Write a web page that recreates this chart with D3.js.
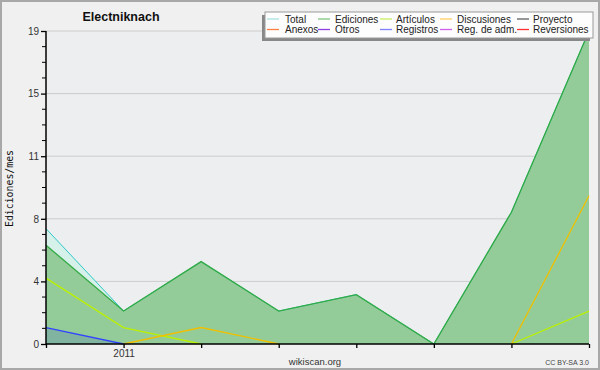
<!DOCTYPE html>
<html><head><meta charset="utf-8">
<script src="https://cdn.jsdelivr.net/npm/d3@7"></script>
<style>body{margin:0;background:#f0f0f0}svg{display:block}</style>
</head><body><svg id="c" width="600" height="370"></svg>
<script>
const months = ["2010-12","2011-01","2011-02","2011-03","2011-04","2011-05","2011-06","2011-07"];
const xLabels = {"2011-01":"2011"};
const total = [7,2,5,2,3,0,8,19];
const ediciones = [6,2,5,2,3,0,8,19];
const articulos = [4,1,0,null,null,null,0,2];
const discusiones = [null,0,1,0,null,null,0,9];
const registros = [1,0,null,null,null,null,null,null];
const yTicks = [0,3.8,7.6,11.4,15.2,19];
const legendNames = ["Total","Ediciones","Artículos","Discusiones","Proyecto","Anexos","Otros","Registros","Reg. de adm.","Reversiones"];
const legendColors = ["#a8e4e0","#80c880","#c8f060","#ffd060","#606060","#ff8040","#9040e0","#8080ff","#d060f0","#ff3030"];

const svg = d3.select("#c");
const W=600,H=370, L=46, R=589, T=31, B=344;
svg.append("rect").attr("x",1).attr("y",1).attr("width",W-2).attr("height",H-2).attr("fill","#f0f0f0").attr("stroke","#a8a8a8").attr("stroke-width",2);
svg.append("rect").attr("x",L).attr("y",T).attr("width",R-L).attr("height",B-T).attr("fill","#edeef0");

const x = d3.scalePoint().domain(months).range([L,R]);
const y = d3.scaleLinear().domain([0,19]).range([B,T]);

// grid
svg.append("g").selectAll("line").data(yTicks.slice(1)).join("line")
  .attr("x1",L).attr("x2",R).attr("y1",d=>y(d)).attr("y2",d=>y(d)).attr("stroke","#cccccc");

const area = d3.area().defined(d=>d[1]!=null).x(d=>x(d[0])).y0(B).y1(d=>y(d[1]));
const line = d3.line().defined(d=>d[1]!=null).x(d=>x(d[0])).y(d=>y(d[1]));
const pts = a => months.map((m,i)=>[m,a[i]]);

svg.append("path").attr("d",area(pts(total))).attr("fill","#d6f0ea");
svg.append("path").attr("d",area(pts(ediciones))).attr("fill","#93cc98");
svg.append("path").attr("d",area(pts(registros))).attr("fill","#4060c0").attr("fill-opacity",0.22);

svg.append("path").attr("d",line(pts(total))).attr("fill","none").attr("stroke","#30c8c8").attr("stroke-width",1);
svg.append("path").attr("d",line(pts(ediciones))).attr("fill","none").attr("stroke","#33aa44").attr("stroke-width",1.3);
svg.append("path").attr("d",line(pts(articulos))).attr("fill","none").attr("stroke","#bbf000").attr("stroke-width",1.3);
svg.append("path").attr("d",line(pts(discusiones))).attr("fill","none").attr("stroke","#f0c000").attr("stroke-width",1.3);
svg.append("path").attr("d",line(pts(registros))).attr("fill","none").attr("stroke","#3344ff").attr("stroke-width",1.3);

// axes
const yAxis = d3.axisLeft(y).tickValues(yTicks).tickFormat(d=>Math.round(d)).tickSize(5).tickPadding(2);
const gy = svg.append("g").attr("transform",`translate(${L},0)`).call(yAxis);
const minor = d3.range(0,19.01,0.95).filter(v=>!yTicks.some(t=>Math.abs(t-v)<0.01));
gy.selectAll(".minor").data(minor).join("line").attr("class","minor").attr("x1",-4).attr("x2",0).attr("y1",d=>y(d)).attr("y2",d=>y(d)).attr("stroke","#000");
const xAxis = d3.axisBottom(x).tickFormat(d=>xLabels[d]||"").tickSize(4).tickPadding(2);
const gx = svg.append("g").attr("transform",`translate(0,${B})`).call(xAxis);
[gx,gy].forEach(g=>{
  g.select(".domain").attr("stroke","#000").attr("stroke-width",1.5);
  g.selectAll(".tick line").attr("stroke","#000").attr("stroke-width",1.3);
  g.selectAll("text").attr("fill","#333").attr("font-family","Liberation Sans, Arial, sans-serif").attr("font-size",10);
});
gx.select(".domain").attr("d",`M${L},0H${R}`);
gy.select(".domain").attr("d",`M0,${T}V${B}`);

// title
svg.append("text").attr("x",121).attr("y",21).attr("text-anchor","middle").attr("font-family","Liberation Sans, Arial, sans-serif").attr("font-weight","bold").attr("font-size",12.5).attr("fill","#111").text("Electniknach");
// y label
svg.append("text").attr("transform","translate(13,188.5) rotate(-90)").attr("text-anchor","middle").attr("font-family","DejaVu Sans Mono, monospace").attr("font-size",10.5).attr("textLength",77).attr("lengthAdjust","spacingAndGlyphs").attr("fill","#111").text("Ediciones/mes");
svg.append("text").attr("x",315).attr("y",365).attr("text-anchor","middle").attr("font-family","Liberation Sans, Arial, sans-serif").attr("font-size",9.5).attr("fill","#333").text("wikiscan.org");
svg.append("text").attr("x",589).attr("y",365).attr("text-anchor","end").attr("font-family","Liberation Sans, Arial, sans-serif").attr("font-size",7).attr("fill","#444").text("CC BY-SA 3.0");

// legend
const lg = svg.append("g");
lg.append("rect").attr("x",262).attr("y",15).attr("width",328).attr("height",26).attr("fill","#888");
lg.append("rect").attr("x",265).attr("y",12).attr("width",328).attr("height",26).attr("fill","#fdfdfd").attr("stroke","#999").attr("stroke-width",1);
const colX = [[267,285],[318,335],[380,396],[440,457],[517,533]];
legendNames.forEach((n,i)=>{
  const c = i%5, r = Math.floor(i/5);
  const yy = 19 + r*10.5;
  lg.append("line").attr("x1",colX[c][0]).attr("x2",colX[c][0]+12).attr("y1",yy).attr("y2",yy).attr("stroke",legendColors[i]).attr("stroke-width",1.3);
  lg.append("text").attr("x",colX[c][1]).attr("y",yy+3.5).attr("font-family","Liberation Sans, Arial, sans-serif").attr("font-size",10).attr("fill","#222").text(n);
});
</script></body></html>
